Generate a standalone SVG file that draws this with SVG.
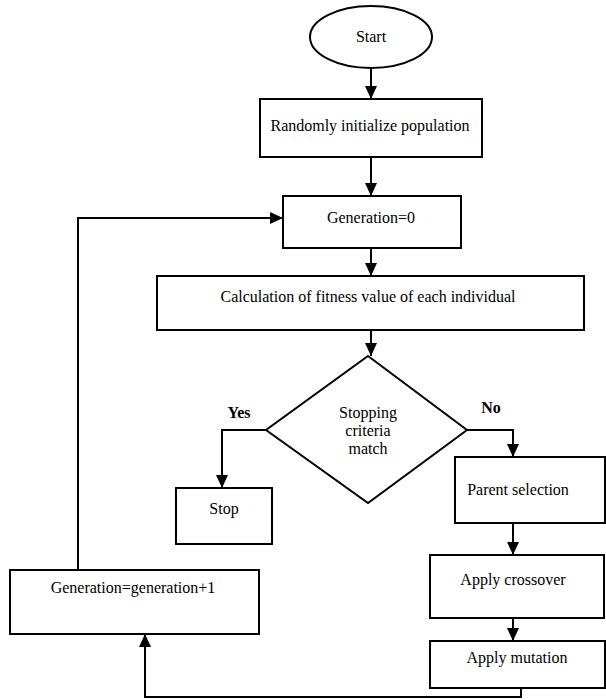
<svg xmlns="http://www.w3.org/2000/svg" width="606" height="700" viewBox="0 0 606 700">
<style>
.n{fill:#fff;stroke:#000;stroke-width:2}
.t{font-family:'Liberation Serif','Times New Roman',serif;font-size:16px;fill:#000;text-anchor:middle}
.b{font-weight:bold}
.c{fill:none;stroke:#000;stroke-width:2}
</style>
<defs>
<marker id="ah" markerUnits="userSpaceOnUse" markerWidth="14" markerHeight="14" refX="13" refY="7" orient="auto">
<path d="M0,1 L13,7 L0,13 Z" fill="#000"/>
</marker>
</defs>
<rect width="606" height="700" fill="#fff"/>
<g id="connectors">
<path class="c" d="M371,68 V99" marker-end="url(#ah)"/>
<path class="c" d="M371,157 V196" marker-end="url(#ah)"/>
<path class="c" d="M371,248 V276" marker-end="url(#ah)"/>
<path class="c" d="M371,330 V356" marker-end="url(#ah)"/>
<path class="c" d="M266,430 H222 V488" marker-end="url(#ah)"/>
<path class="c" d="M467,430 H513 V457" marker-end="url(#ah)"/>
<path class="c" d="M513,523 V555" marker-end="url(#ah)"/>
<path class="c" d="M513,618 V641" marker-end="url(#ah)"/>
<path class="c" d="M521,688 V697 H145 V634" marker-end="url(#ah)"/>
<path class="c" d="M78,570 V218 H283" marker-end="url(#ah)"/>
</g>
<g id="start"><ellipse class="n" cx="371" cy="37" rx="61" ry="31"/><text class="t" x="371" y="42">Start</text></g>
<g id="init"><rect class="n" x="260" y="99" width="222" height="58"/><text class="t" x="370" y="131">Randomly initialize population</text></g>
<g id="gen0"><rect class="n" x="283" y="196" width="178" height="52"/><text class="t" x="371" y="223">Generation=0</text></g>
<g id="fitness"><rect class="n" x="157" y="276" width="427" height="54"/><text class="t" x="368" y="302">Calculation of fitness value of each individual</text></g>
<g id="decision"><polygon class="n" points="368,356 467,430 368,503 266,430"/>
<text class="t" x="368" y="418">Stopping</text><text class="t" x="368" y="436">criteria</text><text class="t" x="368" y="454">match</text></g>
<g id="yes"><text class="t b" x="239" y="418">Yes</text></g>
<g id="no"><text class="t b" x="491" y="413">No</text></g>
<g id="stop"><rect class="n" x="176" y="488" width="96" height="56"/><text class="t" x="224" y="514">Stop</text></g>
<g id="parent"><rect class="n" x="455" y="457" width="150" height="66"/><text class="t" x="518" y="495">Parent selection</text></g>
<g id="crossover"><rect class="n" x="430" y="555" width="174" height="63"/><text class="t" x="513" y="585">Apply crossover</text></g>
<g id="mutation"><rect class="n" x="430" y="641" width="175" height="47"/><text class="t" x="517" y="663">Apply mutation</text></g>
<g id="genplus"><rect class="n" x="10" y="570" width="249" height="64"/><text class="t" x="133" y="593">Generation=generation+1</text></g>
</svg>
